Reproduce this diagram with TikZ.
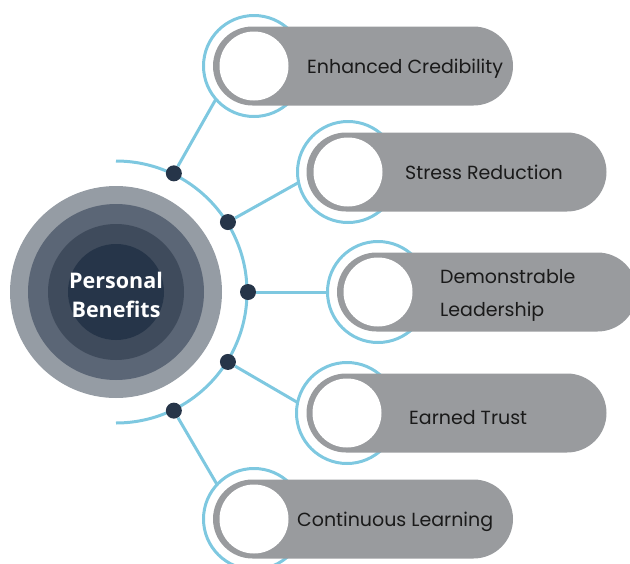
\documentclass[tikz,border=0pt]{standalone}
\usepackage{fontspec}
\setmainfont{Poppins}
\newfontfamily\titlefont{Open Sans}
\usetikzlibrary{shapes.misc,calc}
\definecolor{pillgrey}{HTML}{999B9E}
\definecolor{skyblue}{HTML}{7EC8E0}
\definecolor{navy}{HTML}{263549}
\definecolor{ringA}{HTML}{959CA4}
\definecolor{ringB}{HTML}{5B6676}
\definecolor{ringC}{HTML}{3F4B5C}
\definecolor{txt}{HTML}{1A1A1A}
\tikzset{
  ringnode/.style={circle, draw=skyblue, line width=3pt, minimum size=101pt, inner sep=0pt, outer sep=0pt},
  pill/.style={rounded rectangle, fill=pillgrey, minimum height=79pt, minimum width=300pt, inner sep=0pt},
  hole/.style={circle, fill=white, minimum size=69pt, inner sep=0pt},
  dotnode/.style={circle, fill=navy, minimum size=16pt, inner sep=0pt},
  link/.style={draw=skyblue, line width=3pt},
  itemlabel/.style={font=\fontsize{19}{22}\selectfont, text=txt, anchor=west, inner sep=0pt},
  disc/.style={circle, inner sep=0pt, outer sep=0pt}
}
\begin{document}
\begin{tikzpicture}[x=1pt,y=-1pt]
\useasboundingbox (0,0) rectangle (630,563);
\clip (0,0) rectangle (630,563);
% central discs
\node[disc, fill=ringA, minimum size=212pt] (core) at (116,292) {};
\node[disc, fill=ringB, minimum size=176pt] (coreB) at (116,292) {};
\node[disc, fill=ringC, minimum size=136pt] (coreC) at (116,292) {};
\node[disc, fill=navy, minimum size=96pt] (coreD) at (116,292) {};
\node[font=\titlefont\bfseries\fontsize{21.5}{29}\selectfont, text=white, align=center] (title) at (116,295) {Personal\\Benefits};
% arc
\draw[skyblue, line width=3pt] (core.center) ++(90:131) arc[start angle=90, end angle=-90, radius=131];
% dots
\node[dotnode] (d1) at ($(116,292)+(-64:132)$) {};
\node[dotnode] (d2) at ($(116,292)+(-32:132)$) {};
\node[dotnode] (d3) at ($(116,292)+(0:132)$) {};
\node[dotnode] (d4) at ($(116,292)+(32:132)$) {};
\node[dotnode] (d5) at ($(116,292)+(64:132)$) {};
% rings
\node[ringnode] (r1) at (254,66) {};
\node[ringnode] (r2) at (348,172) {};
\node[ringnode] (r3) at (378,292) {};
\node[ringnode] (r4) at (347,413) {};
\node[ringnode] (r5) at (254,519) {};
% connectors
\draw[link] (d1) -- (r1.221);
\draw[link] (d2) -- (r2.192);
\draw[link] (d3) -- (r3);
\draw[link] (d4) -- (r4.168);
\draw[link] (d5) -- (r5.137);
% pills
\node[pill] (p1) at (363,66) {};
\node[pill] (p2) at (456.5,172) {};
\node[pill] (p3) at (487,292) {};
\node[pill] (p4) at (456.5,413) {};
\node[pill] (p5) at (363,519) {};
% holes
\node[hole] (h1) at (254,66) {};
\node[hole] (h2) at (348,172) {};
\node[hole] (h3) at (378,292) {};
\node[hole] (h4) at (347,413) {};
\node[hole] (h5) at (254,519) {};
% labels
\node[itemlabel] (t1) at (307,68.5) {Enhanced Credibility};
\node[itemlabel] (t2) at (405,172.5) {Stress Reduction};
\node[itemlabel] (t3a) at (440,276.5) {Demonstrable};
\node[itemlabel] (t3b) at (440,312) {Leadership};
\node[itemlabel] (t4) at (409,417.5) {Earned Trust};
\node[itemlabel] (t5) at (297,521.5) {Continuous Learning};
\end{tikzpicture}
\end{document}
